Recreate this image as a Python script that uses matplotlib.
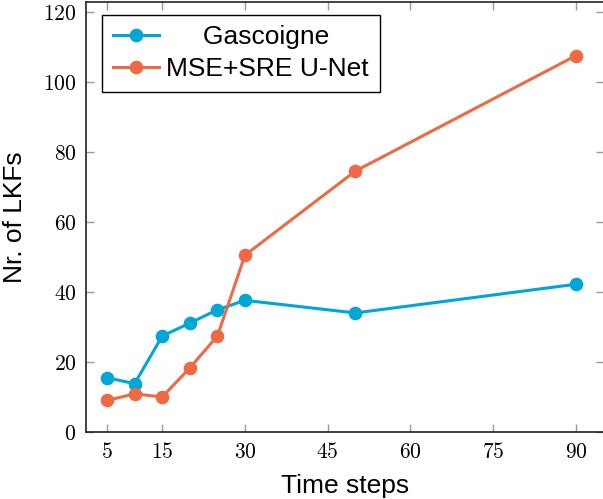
import matplotlib
matplotlib.use("Agg")
import matplotlib.pyplot as plt

time_steps = [5, 10, 15, 20, 25, 30, 50, 90]
gascoigne = [15.5, 13.8, 27.4, 31.1, 34.9, 37.6, 34.0, 42.2]
unet = [9.0, 10.9, 10.0, 18.3, 27.4, 50.5, 74.5, 107.5]
xticks = [5, 15, 30, 45, 60, 75, 90]
yticks = [0, 20, 40, 60, 80, 100, 120]
labels = ["     Gascoigne", "MSE+SRE U-Net"]

blue = "#00a6d6"
orange = "#ee6a45"

plt.rcParams["mathtext.fontset"] = "cm"
fig = plt.figure(figsize=(6.03, 4.99), dpi=100)
ax = fig.add_axes([86/603, 1-432/499, (603.5-86)/603, (432-2)/499])

ax.plot(time_steps, gascoigne, color=blue, lw=2.2, marker="o", ms=8.8, label=labels[0])
ax.plot(time_steps, unet, color=orange, lw=2.2, marker="o", ms=8.8, label=labels[1])

ax.set_xlim(1.19, 94.98)
ax.set_ylim(0, 122.8)
ax.set_xticks(xticks)
ax.set_yticks(yticks)
ax.set_xticklabels([f"${t}$" for t in xticks], fontsize=15.5)
ax.set_yticklabels([f"${t}$" for t in yticks], fontsize=15.5)
ax.tick_params(direction="in", length=6, width=1, color="#999999", top=True, right=True, pad=7)
for s in ax.spines.values():
    s.set_linewidth(1.2)
    s.set_color("#222222")

ax.set_xlabel("Time steps", fontsize=19, family="Liberation Sans", labelpad=9)
ax.set_ylabel("Nr. of LKFs", fontsize=19, family="Liberation Sans", labelpad=11)

leg = ax.legend(loc="upper left", bbox_to_anchor=(0.031, 0.970), borderaxespad=0,
                prop={"family": "Liberation Sans", "size": 19},
                frameon=True, fancybox=False, edgecolor="black", framealpha=1,
                handlelength=1.74, borderpad=0.4, labelspacing=0.3, handletextpad=0.3)
leg.get_frame().set_linewidth(1.0)

fig.savefig("out.png", dpi=100)
